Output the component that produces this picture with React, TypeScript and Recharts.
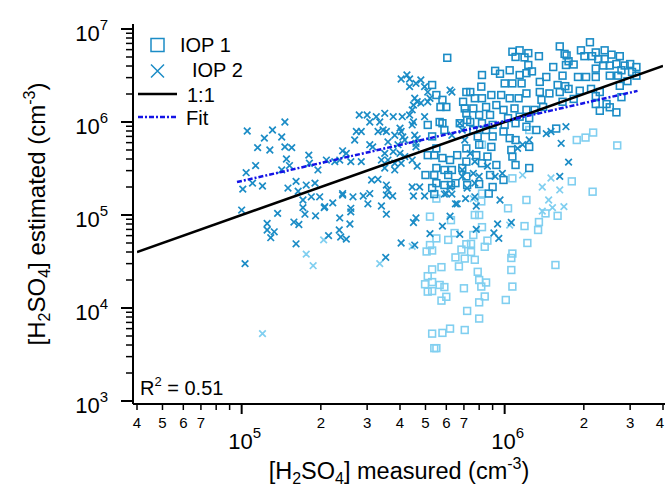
import React from "react";
import { Legend, Scatter, ScatterChart, XAxis, YAxis } from "recharts";

const FONT = '"Liberation Sans", Arial, sans-serif';
const DARK = "#1b8cc6";
const LIGHT = "#80cff0";
const FIT_BLUE = "#1414e6";

const xTicks = [
  4e4, 5e4, 6e4, 7e4, 8e4, 9e4, 1e5, 2e5, 3e5, 4e5, 5e5, 6e5, 7e5, 8e5, 9e5,
  1e6, 2e6, 3e6, 4e6,
];
const yTicks = [
  1e3, 2e3, 3e3, 4e3, 5e3, 6e3, 7e3, 8e3, 9e3, 1e4, 2e4, 3e4, 4e4, 5e4, 6e4,
  7e4, 8e4, 9e4, 1e5, 2e5, 3e5, 4e5, 5e5, 6e5, 7e5, 8e5, 9e5, 1e6, 2e6, 3e6,
  4e6, 5e6, 6e6, 7e6, 8e6, 9e6, 1e7,
];
const xMinorLabelled = [4, 5, 6, 7, 2, 3];

// IOP 1 (squares), [measured, estimated]
const iop1 = [
  [5.3e5, 2.5e6], [5.5e5, 1.95e6], [5.8e5, 1.73e6], [5.7e5, 1.45e6], [6.0e5, 1.45e6],
  [7.05e5, 1.4e6], [7.15e5, 2.1e6], [5.66e5, 1.0e6], [5.8e5, 9.7e5], [5.1e5, 9.3e5],
  [5.9e5, 8.2e5], [6.75e5, 9.7e5], [7.2e5, 1.05e6], [5.3e5, 7.0e5], [5.5e5, 5.2e5],
  [5.1e5, 4.4e5], [5.4e5, 4.4e5], [5.8e5, 4.1e5], [6.2e5, 3.9e5], [6.6e5, 4.4e5],
  [7.15e5, 5.2e5], [5.5e5, 3.2e5], [5.9e5, 3.05e5], [6.3e5, 3.05e5], [6.9e5, 3.2e5],
  [5.0e5, 2.69e5], [5.4e5, 2.69e5], [6.1e5, 2.69e5], [5.5e5, 2.2e5], [5.9e5, 2.1e5],
  [6.25e5, 2.1e5], [6.5e5, 2.2e5], [5.3e5, 1.95e5], [7.15e5, 2.6e5], [6.05e5, 4.9e6],
  [1.07e6, 5.7e6], [1.14e6, 5.9e6], [1.23e6, 5.5e6], [1.1e6, 5.0e6], [1.19e6, 4.95e6],
  [1.35e6, 5.1e6], [1.62e6, 6.5e6], [1.72e6, 5.2e6], [1.23e6, 4.1e6], [1.27e6, 3.5e6],
  [9.2e5, 3.55e6], [9.6e5, 3.3e6], [1.045e6, 3.6e6], [1.14e6, 3.2e6], [1.21e6, 3.35e6],
  [8.2e5, 3.2e6], [1.53e6, 3.9e6], [1.44e6, 3.05e6], [1.36e6, 2.7e6], [1.71e6, 4.1e6],
  [1.59e6, 2.5e6], [1.7e6, 2.43e6], [1.0e6, 2.6e6], [1.07e6, 2.6e6], [1.16e6, 2.6e6],
  [8.15e5, 2.4e6], [7.4e5, 2.1e6], [1.36e6, 2.1e6], [1.48e6, 2.03e6], [1.62e6, 2.1e6],
  [1.21e6, 2.03e6], [8.9e5, 1.95e6], [9.7e5, 1.95e6], [1.045e6, 1.8e6], [1.13e6, 1.8e6],
  [8.2e5, 1.8e6], [7.7e5, 1.8e6], [6.95e5, 1.65e6], [1.38e6, 1.73e6], [1.66e6, 1.65e6],
  [7.6e5, 1.4e6], [8.5e5, 1.45e6], [9.3e5, 1.52e6], [9.9e5, 1.35e6], [1.09e6, 1.4e6],
  [1.21e6, 1.35e6], [1.3e6, 1.35e6], [1.4e6, 1.45e6], [7.15e5, 1.24e6], [8.0e5, 1.19e6],
  [8.8e5, 1.19e6], [1.03e6, 1.1e6], [1.14e6, 1.14e6], [1.24e6, 1.1e6], [7.4e5, 1.0e6],
  [8.2e5, 9.7e5], [9.0e5, 9.3e5], [1.0e6, 9.3e5], [1.1e6, 9.7e5], [1.21e6, 8.9e5],
  [7.6e5, 8.2e5], [8.5e5, 8.2e5], [9.9e5, 7.9e5], [1.32e6, 8.2e5], [1.57e6, 8.5e5],
  [7.9e5, 7.0e5], [9.0e5, 7.0e5], [1.045e6, 6.7e5], [1.1e6, 6.4e5], [8.0e5, 5.7e5],
  [8.9e5, 5.4e5], [1.06e6, 5.0e5], [1.24e6, 5.4e5], [7.8e5, 4.4e5], [8.6e5, 4.25e5],
  [1.07e6, 4.25e5], [7.15e5, 3.75e5], [8.2e5, 3.6e5], [9.3e5, 3.45e5], [1.1e6, 3.45e5],
  [1.24e6, 3.2e5], [8.8e5, 2.69e5], [9.9e5, 2.38e5], [9.0e5, 2.0e5], [7.2e5, 2.1e5],
  [8.0e5, 2.15e5], [8.7e5, 1.7e5], [5.4e5, 1.68e5],
  [2.11e6, 7.2e6], [1.95e6, 5.9e6], [2.01e6, 5.1e6], [2.15e6, 5.1e6], [2.22e6, 5.6e6],
  [2.4e6, 5.9e6], [2.55e6, 5.3e6], [2.74e6, 5.1e6], [2.27e6, 4.75e6], [2.4e6, 4.75e6],
  [1.69e6, 5.4e6], [1.75e6, 4.5e6], [1.83e6, 4.15e6], [2.22e6, 3.75e6], [2.37e6, 4.05e6],
  [2.51e6, 4.05e6], [2.66e6, 4.2e6], [2.86e6, 4.05e6], [3.0e6, 4.2e6], [3.17e6, 3.9e6],
  [2.78e6, 3.6e6], [1.66e6, 3.15e6], [1.9e6, 3.05e6], [2.04e6, 3.05e6], [2.22e6, 3.05e6],
  [2.51e6, 3.15e6], [2.7e6, 3.15e6], [3.17e6, 3.15e6], [1.75e6, 2.27e6], [1.93e6, 2.17e6],
  [2.13e6, 2.27e6], [2.3e6, 2.1e6], [2.74e6, 2.45e6], [2.93e6, 2.75e6], [1.83e6, 1.77e6],
  [2.22e6, 1.9e6], [2.78e6, 1.85e6], [2.22e6, 1.56e6], [2.44e6, 1.56e6], [2.3e6, 1.32e6],
  [2.51e6, 1.44e6], [2.66e6, 1.27e6], [3.05e6, 3.45e6],
];

// IOP 1, lighter squares
const iop1Light = [
  [1.24e6, 8.2e5], [8.2e5, 5.7e5], [1.07e6, 2.48e5], [8.2e5, 1.7e5], [1.03e6, 1.18e5],
  [5.5e5, 1.5e5], [8.15e5, 1.4e5], [1.88e6, 6.4e5], [2.03e6, 6.8e5], [2.17e6, 7.7e5],
  [2.68e6, 5.6e5], [1.8e6, 2.3e5], [1.21e6, 1.45e5], [2.16e6, 1.78e5], [1.59e6, 9.8e4],
  [1.43e6, 1.04e5], [1.35e6, 8.4e4], [1.19e6, 7.6e4], [1.34e6, 6.9e4], [1.22e6, 5.0e4],
  [1.56e6, 2.9e4], [5.2e5, 9.6e4], [6.25e5, 8.8e4], [6.45e5, 6.4e4], [6.1e5, 5.4e4],
  [5.5e5, 5.6e4], [5.2e5, 4.75e4], [5.05e5, 4.05e4], [5.3e5, 4.15e4], [7.7e5, 1.0e5],
  [8.0e5, 1.0e5], [8.2e5, 7.4e4], [7.6e5, 6.1e4], [8.6e5, 5.3e4], [7.15e5, 4.85e4],
  [7.45e5, 4.9e4], [8.4e5, 4.55e4], [6.85e5, 4.25e4], [7.45e5, 4.0e4], [6.5e5, 3.5e4],
  [7.05e5, 3.4e4], [7.7e5, 3.3e4], [1.07e6, 3.85e4], [1.06e6, 3.45e4], [5.3e5, 2.6e4],
  [5.75e5, 2.75e4], [6.7e5, 2.8e4], [7.9e5, 2.45e4], [1.06e6, 2.56e4], [5.1e5, 2.2e4],
  [4.98e5, 1.8e4], [5.3e5, 1.9e4], [5.66e5, 1.77e4], [5.9e5, 1.68e4], [8.0e5, 2.0e4],
  [8.15e5, 1.7e4], [8.5e5, 1.88e4], [7.0e5, 1.63e4], [5.1e5, 1.5e4], [5.3e5, 1.52e4],
  [1.07e6, 1.7e4], [6.0e5, 1.32e4], [5.75e5, 1.2e4], [8.4e5, 1.33e4], [8.0e5, 1.15e4],
  [1.01e6, 1.22e4], [7.2e5, 9.3e3], [8.0e5, 7.7e3], [5.3e5, 5.3e3], [5.8e5, 5.4e3],
  [6.2e5, 6.0e3], [7.05e5, 5.8e3], [5.4e5, 3.7e3], [5.5e5, 3.7e3],
];

// IOP 2 (crosses)
const iop2 = [
  [1.05e5, 8.0e5], [1.31e5, 8.2e5], [1.46e5, 1.0e6], [1.22e5, 6.7e5], [1.42e5, 6.9e5],
  [1.15e5, 5.3e5], [1.28e5, 5.0e5], [1.46e5, 5.4e5], [1.55e5, 5.3e5], [1.48e5, 4.0e5],
  [1.52e5, 3.4e5], [1.42e5, 3.05e5], [1.13e5, 3.4e5], [1.04e5, 2.85e5], [1.1e5, 2.2e5],
  [1.2e5, 2.05e5], [1.01e5, 1.9e5], [1.5e5, 1.95e5], [1.61e5, 2.3e5], [1.8e5, 4.4e5],
  [1.81e5, 3.6e5], [1.95e5, 3.05e5], [2.1e5, 3.9e5], [1.76e5, 2.1e5], [1.9e5, 2.2e5],
  [1.64e5, 1.8e5], [1.84e5, 1.57e5], [1.98e5, 1.57e5], [1.71e5, 1.45e5], [2.07e5, 1.23e5],
  [2.22e5, 1.35e5], [1.0e5, 1.13e5], [1.37e5, 1.04e5], [1.25e5, 8.1e4], [1.25e5, 6.9e4],
  [1.33e5, 6.6e4], [1.29e5, 5.7e4], [1.03e5, 3.0e4], [1.58e5, 8.4e4], [1.65e5, 7.9e4],
  [1.61e5, 4.9e4], [1.71e5, 1.2e5], [1.74e5, 1.02e5], [1.91e5, 9.8e4], [2.06e5, 1.2e5],
  [2.36e5, 9.3e4], [2.35e5, 6.9e4], [2.38e5, 5.8e4], [2.5e5, 5.5e4], [2.58e5, 8.0e4],
  [2.6e5, 1.18e5], [2.6e5, 1.08e5], [2.42e5, 1.64e5], [2.65e5, 1.57e5], [2.9e5, 1.6e5],
  [3.02e5, 1.32e5], [3.07e5, 1.7e5], [3.4e5, 1.25e5], [3.55e5, 1.02e5], [3.55e5, 1.64e5],
  [3.75e5, 1.6e5], [4.04e5, 5.0e4], [4.55e5, 4.75e4], [4.5e5, 8.3e4], [4.6e5, 9.3e4],
  [4.5e5, 1.6e5], [3.53e5, 3.5e4], [2.14e5, 6.0e4], [4.04e5, 2.9e6], [4.25e5, 3.2e6],
  [4.35e5, 2.9e6], [4.6e5, 2.6e6], [4.8e5, 2.83e6], [4.35e5, 2.4e6], [4.96e5, 2.4e6],
  [6.3e5, 2.1e6], [4.55e5, 1.8e6], [4.65e5, 1.65e6], [5.1e5, 1.65e6], [5.2e5, 1.8e6],
  [4.5e5, 1.52e6], [2.8e5, 1.19e6], [3.0e5, 1.19e6], [3.25e5, 1.14e6], [3.5e5, 1.24e6],
  [3.07e5, 1.0e6], [3.35e5, 1.0e6], [3.77e5, 1.14e6], [4.08e5, 1.14e6], [4.35e5, 1.19e6],
  [4.5e5, 1.0e6], [4.45e5, 1.35e6], [2.73e5, 7.9e5], [2.85e5, 7.9e5], [2.69e5, 6.4e5],
  [3.3e5, 7.9e5], [3.45e5, 8.2e5], [3.55e5, 7.9e5], [4.0e5, 8.6e5], [4.04e5, 7.9e5],
  [3.82e5, 7.2e5], [4.17e5, 6.4e5], [4.55e5, 7.2e5], [4.65e5, 6.6e5], [3.07e5, 5.7e5],
  [3.15e5, 5.4e5], [3.6e5, 6.1e5], [3.93e5, 5.7e5], [4.6e5, 5.4e5], [2.42e5, 4.9e5],
  [2.5e5, 4.6e5], [3.5e5, 4.6e5], [3.77e5, 4.8e5], [4.0e5, 4.6e5], [4.17e5, 4.25e5],
  [2.26e5, 3.75e5], [2.36e5, 3.9e5], [2.6e5, 3.75e5], [2.85e5, 3.75e5], [3.4e5, 3.9e5],
  [3.6e5, 3.9e5], [3.82e5, 3.6e5], [4.04e5, 3.6e5], [4.45e5, 3.9e5], [4.65e5, 3.35e5],
  [3.5e5, 3.2e5], [3.82e5, 3.05e5], [3.12e5, 2.38e5], [3.3e5, 2.42e5], [3.55e5, 2.1e5],
  [3.6e5, 1.86e5], [2.42e5, 1.7e5], [4.45e5, 2.0e5], [4.75e5, 2.0e5], [4.96e5, 1.6e5],
  [6.0e5, 1.7e5], [6.6e5, 1.32e5], [6.9e5, 2.6e5], [6.2e5, 2.0e5], [5.1e5, 2.1e6],
  [4.8e5, 1.6e6], [6.2e5, 2.2e6], [4.96e5, 1.14e6], [6.75e5, 9.7e5], [6.3e5, 7.2e5],
  [4.45e5, 9.3e5], [4.1e5, 6.9e5], [4.6e5, 5.9e5], [1.44e6, 7.5e5], [1.5e6, 7.9e5],
  [1.71e6, 8.9e5], [1.64e6, 5.9e5], [1.24e6, 6.4e5], [1.17e6, 5.7e5], [1.12e6, 5.2e5],
  [9.8e5, 2.8e5], [9.2e5, 2.6e5], [9.6e5, 1.45e5], [7.1e5, 1.5e5], [7.7e5, 1.57e5],
  [1.62e6, 2.6e5], [1.75e6, 3.7e5], [6.9e5, 8.2e5], [7.05e5, 6.4e5], [7.4e5, 4.6e5],
  [7.7e5, 3.75e5], [6.9e5, 3.05e5], [7.6e5, 2.8e5], [8.0e5, 2.6e5], [7.7e5, 2.2e5],
  [7.2e5, 1.95e5], [8.6e5, 3.35e5], [5.9e5, 1.68e5], [6.3e5, 1.68e5], [6.5e5, 1.32e5],
  [7.8e5, 1.25e5], [6.2e5, 9.7e4], [5.8e5, 7.6e4], [5.2e5, 6.3e4], [6.75e5, 6.2e4],
  [7.8e5, 7.0e4], [9.4e5, 8.0e4], [9.1e5, 6.4e4], [9.5e5, 5.6e4], [1.06e6, 8.3e4],
];

// IOP 2, lighter crosses
const iop2Light = [
  [1.76e5, 3.8e4], [1.87e5, 2.85e4], [2.05e5, 5.4e4], [1.2e5, 5.3e3], [3.35e5, 3.0e4],
  [4.45e5, 4.6e4], [7.6e5, 1.5e5], [1.045e6, 7.8e4], [1.47e6, 1.45e5], [1.39e6, 1.1e5],
  [1.52e6, 1.2e5], [1.68e6, 1.23e5], [1.17e6, 2.69e5], [1.39e6, 2.0e5], [1.5e6, 2.5e5],
  [1.62e6, 1.86e5],
];

const oneToOne = [[4e4, 4e4], [4e6, 4e6]];
const fitLine = [[9.6e4, 2.26e5], [3.2e6, 2.16e6]];

const toXY = (pts: number[][]) => pts.map(([x, y]) => ({ x, y }));

const isDecade = (v: number) => Math.abs(Math.log10(v) - Math.round(Math.log10(v))) < 1e-9;
const mantissa = (v: number) => Math.round(v / Math.pow(10, Math.floor(Math.log10(v) + 1e-9)));

const squareShape = (color: string) => (props: any) => {
  const { cx, cy } = props;
  return (
    <rect x={cx - 3.4} y={cy - 3.4} width={6.8} height={6.8} fill="none" stroke={color} strokeWidth={1.6} />
  );
};

const crossShape = (color: string) => (props: any) => {
  const { cx, cy } = props;
  const r = 3.3;
  return (
    <path
      d={`M${cx - r},${cy - r}L${cx + r},${cy + r}M${cx - r},${cy + r}L${cx + r},${cy - r}`}
      stroke={color}
      strokeWidth={1.7}
      fill="none"
    />
  );
};

const noDot = () => <g />;

const XTick = (props: any) => {
  const { x, y, payload } = props;
  const v = payload.value;
  const major = isDecade(v);
  const m = mantissa(v);
  // keep the last digit inside the window
  const lx = v >= 4e6 ? x - 3 : x;
  return (
    <g>
      <line x1={x} x2={x} y1={y} y2={y + (major ? 10 : 6)} stroke="#000" strokeWidth={major ? 2 : 1.5} />
      {major ? (
        <text x={x + 3} y={y + 45} textAnchor="middle" fontSize={22} fontFamily={FONT} fill="#000">
          10
          <tspan dy={-11} fontSize={15}>{Math.round(Math.log10(v))}</tspan>
        </text>
      ) : xMinorLabelled.includes(m) && !(m === 2 && v < 1e5) ? (
        <text x={lx} y={y + 24} textAnchor="middle" fontSize={15} fontFamily={FONT} fill="#000">
          {m}
        </text>
      ) : null}
    </g>
  );
};

const YTick = (props: any) => {
  const { x, y, payload } = props;
  const v = payload.value;
  const major = isDecade(v);
  return (
    <g>
      <line x1={x} x2={x - (major ? 12 : 7)} y1={y} y2={y} stroke="#000" strokeWidth={major ? 2 : 1.5} />
      {major && (
        <text x={x - 25} y={y + 12} textAnchor="end" fontSize={22} fontFamily={FONT} fill="#000">
          10
          <tspan dy={-11} fontSize={15}>{Math.round(Math.log10(v))}</tspan>
        </text>
      )}
    </g>
  );
};

const LegendBox = () => (
  <svg width={300} height={140} style={{ display: "block" }}>
    <rect x={151} y={38.5} width={13} height={13} fill="none" stroke={DARK} strokeWidth={1.5} />
    <text x={180} y={52} fontSize={20} fontFamily={FONT} fill="#000">IOP 1</text>
    <path d="M151,64.5L164,77.5M151,77.5L164,64.5" stroke={DARK} strokeWidth={1.5} />
    <text x={192} y={77} fontSize={20} fontFamily={FONT} fill="#000">IOP 2</text>
    <line x1={138} x2={177} y1={94} y2={94} stroke="#000" strokeWidth={2.5} />
    <text x={187} y={102} fontSize={20} fontFamily={FONT} fill="#000">1:1</text>
    <line x1={138} x2={177} y1={117} y2={117} stroke={FIT_BLUE} strokeWidth={2.5} strokeDasharray="5 2 2 2" />
    <text x={186} y={125} fontSize={20} fontFamily={FONT} fill="#000">Fit</text>
  </svg>
);

export default function App() {
  return (
    <div style={{ position: "absolute", left: 0, top: 0, width: 665, height: 487, overflow: "hidden", background: "#fff" }}>
      <ScatterChart width={672} height={487} margin={{ top: 24, right: 5, bottom: 0, left: 0 }}>
        <XAxis
          type="number"
          dataKey="x"
          scale="log"
          domain={[4e4, 4e6]}
          allowDataOverflow
          ticks={xTicks}
          interval={0}
          tick={<XTick />}
          tickLine={false}
          tickSize={0}
          tickMargin={0}
          height={83}
          padding={{ left: 4, right: 4 }}
          axisLine={{ stroke: "#000", strokeWidth: 2 }}
        />
        <XAxis
          xAxisId="top"
          orientation="top"
          type="number"
          dataKey="x"
          scale="log"
          domain={[4e4, 4e6]}
          allowDataOverflow
          tick={false}
          tickLine={false}
          height={0}
          axisLine={{ stroke: "#000", strokeWidth: 2 }}
        />
        <YAxis
          type="number"
          dataKey="y"
          scale="log"
          domain={[1e3, 1e7]}
          allowDataOverflow
          ticks={yTicks}
          interval={0}
          tick={<YTick />}
          tickLine={false}
          tickSize={0}
          tickMargin={0}
          width={133}
          padding={{ top: 5, bottom: 3 }}
          axisLine={{ stroke: "#000", strokeWidth: 2 }}
        />
        <Legend
          layout="horizontal"
          verticalAlign="middle"
          align="center"
          wrapperStyle={{ left: 0, top: 0, width: 300, height: 140 }}
          content={() => <LegendBox />}
        />
        <Scatter name="IOP 1 light" data={toXY(iop1Light)} shape={squareShape(LIGHT)} isAnimationActive={false} legendType="none" />
        <Scatter name="IOP 2 light" data={toXY(iop2Light)} shape={crossShape(LIGHT)} isAnimationActive={false} legendType="none" />
        <Scatter name="IOP 1" data={toXY(iop1)} shape={squareShape(DARK)} isAnimationActive={false} legendType="square" />
        <Scatter name="IOP 2" data={toXY(iop2)} shape={crossShape(DARK)} isAnimationActive={false} legendType="cross" />
        <Scatter
          name="1:1"
          data={toXY(oneToOne)}
          line={{ stroke: "#000", strokeWidth: 2.5 }}
          shape={noDot}
          isAnimationActive={false}
          legendType="line"
        />
        <Scatter
          name="Fit"
          data={toXY(fitLine)}
          line={{ stroke: FIT_BLUE, strokeWidth: 2.5, strokeDasharray: "5 2 2 2" }}
          shape={noDot}
          isAnimationActive={false}
          legendType="line"
        />
      </ScatterChart>
      <svg width={665} height={487} style={{ position: "absolute", left: 0, top: 0, pointerEvents: "none" }}>
        <text transform="translate(45,214) rotate(-90)" textAnchor="middle" fontSize={24} fontFamily={FONT} fill="#000">
          [H<tspan dy={5} fontSize={16}>2</tspan>
          <tspan dy={-5}>SO</tspan>
          <tspan dy={5} fontSize={16}>4</tspan>
          <tspan dy={-5}>] estimated (cm</tspan>
          <tspan dy={-10} fontSize={16}>-3</tspan>
          <tspan dy={10}>)</tspan>
        </text>
        <text x={399} y={479} textAnchor="middle" fontSize={23.5} fontFamily={FONT} fill="#000">
          [H<tspan dy={5} fontSize={16}>2</tspan>
          <tspan dy={-5}>SO</tspan>
          <tspan dy={5} fontSize={16}>4</tspan>
          <tspan dy={-5}>] measured (cm</tspan>
          <tspan dy={-10} fontSize={16}>-3</tspan>
          <tspan dy={10}>)</tspan>
        </text>
        <text x={140} y={395} fontSize={20} fontFamily={FONT} fill="#000">
          R<tspan dy={-9} fontSize={13}>2</tspan>
          <tspan dy={9}> = 0.51</tspan>
        </text>
      </svg>
    </div>
  );
}
